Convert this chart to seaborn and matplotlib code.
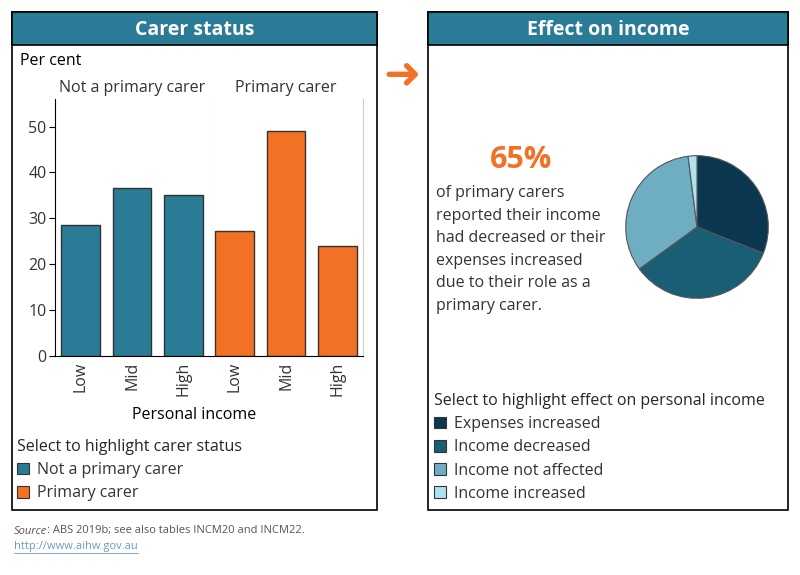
import numpy as np
import pandas as pd
import matplotlib
matplotlib.use("Agg")
import matplotlib.pyplot as plt
import seaborn as sns
from matplotlib.patches import Rectangle, Patch
from matplotlib.lines import Line2D

# ==========================
# Dane
# ==========================
carer_groups = ["Not a primary carer", "Primary carer"]
income_levels = ["Low", "Mid", "High"]
not_carer_values = [28.5, 36.6, 35.1]
primary_carer_values = [27.2, 49.0, 24.0]

effect_labels = ["Expenses increased", "Income decreased", "Income not affected", "Income increased"]
effect_values = [31, 34, 33, 2]

TEAL = "#2a7b96"
ORANGE = "#f37124"
PIE_COLORS = ["#0b3850", "#1a5e76", "#6faec2", "#ade2ef"]
TEXT = "#333333"
FS = 11.5

sns.set_style("white")
plt.rcParams["font.family"] = ["Open Sans", "DejaVu Sans"]

W, H = 800, 575
fig = plt.figure(figsize=(W / 100, H / 100), dpi=100)


def fx(x):
    return x / W


def fy(y):
    return 1 - y / H


# ==========================
# Ramki paneli
# ==========================
def panel(x0, x1, title):
    fig.add_artist(Rectangle((fx(x0), fy(510)), fx(x1 - x0), (510 - 12) / H,
                             transform=fig.transFigure, facecolor="none",
                             edgecolor="black", lw=1.2))
    fig.add_artist(Rectangle((fx(x0), fy(45)), fx(x1 - x0), (45 - 12) / H,
                             transform=fig.transFigure, facecolor=TEAL,
                             edgecolor="black", lw=1.2))
    fig.text(fx((x0 + x1) / 2), fy(30), title, color="white", fontsize=14,
             fontweight="bold", ha="center", va="center")


panel(12, 377, "Carer status")
panel(428, 788, "Effect on income")

# strzałka
fig.text(fx(402), fy(76), "➜", color=ORANGE, fontsize=32, ha="center",
         va="center", family="DejaVu Sans")

# ==========================
# Wykres słupkowy (dwa panele)
# ==========================
fig.text(fx(20), fy(61), "Per cent", fontsize=FS, color="black", va="center")

ax_w = (363 - 55) / 2
axes = [fig.add_axes([fx(55), fy(356), ax_w / W, (356 - 99) / H]),
        fig.add_axes([fx(55 + ax_w), fy(356), ax_w / W, (356 - 99) / H])]

for ax, group, vals, col in zip(axes, carer_groups,
                                 [not_carer_values, primary_carer_values],
                                 [TEAL, ORANGE]):
    df = pd.DataFrame({"income": income_levels, "value": vals})
    sns.barplot(data=df, x="income", y="value", order=income_levels,
                color=col, saturation=1, width=0.75, edgecolor="#333333",
                linewidth=1, ax=ax)
    ax.set_ylim(0, 56)
    ax.set_xlabel("")
    ax.set_ylabel("")
    ax.set_title(group, fontsize=FS, color=TEXT, pad=5)
    ax.tick_params(axis="x", length=0, labelrotation=90, labelsize=FS,
                   labelcolor=TEXT, pad=4)
    ax.spines["top"].set_visible(False)
    ax.spines["right"].set_color("#cccccc")
    ax.spines["bottom"].set_color("black")
    ax.spines["left"].set_visible(False)

axes[0].spines["left"].set_visible(True)
axes[0].spines["left"].set_color("black")
axes[0].set_yticks([0, 10, 20, 30, 40, 50])
axes[0].tick_params(axis="y", left=True, length=4, labelsize=FS,
                    labelcolor=TEXT, color="black", pad=2)
axes[1].set_yticks([])

fig.text(fx(194.5), fy(415), "Personal income", fontsize=FS, color="black",
         ha="center", va="center")

# legenda lewa
left_handles = [Patch(facecolor=c, edgecolor="#333333", lw=0.8) for c in [TEAL, ORANGE]]
leg1 = fig.legend(left_handles, carer_groups, loc="upper left",
                  bbox_to_anchor=(fx(17), fy(439)), frameon=False,
                  title="Select to highlight carer status", title_fontsize=FS,
                  fontsize=FS, alignment="left", handlelength=0.75,
                  handleheight=0.75, handletextpad=0.5, labelspacing=0.45,
                  borderpad=0, borderaxespad=0)
for t in leg1.get_texts():
    t.set_color(TEXT)

# ==========================
# Wykres kołowy
# ==========================
ax_pie = fig.add_axes([fx(625), fy(299), 144 / W, 144 / H])
ax_pie.pie(effect_values, colors=PIE_COLORS, startangle=90, counterclock=False,
           wedgeprops=dict(edgecolor="#555555", linewidth=0.8))
ax_pie.set_xlim(-1.01, 1.01)
ax_pie.set_ylim(-1.01, 1.01)
ax_pie.set_aspect("equal")

fig.text(fx(521), fy(160), "65%", color=ORANGE, fontsize=22,
         fontweight="bold", ha="center", va="center")
fig.text(fx(436), fy(185),
         "of primary carers\nreported their income\nhad decreased or their\n"
         "expenses increased\ndue to their role as a\nprimary carer.",
         fontsize=FS, color=TEXT, ha="left", va="top", linespacing=1.55)

right_handles = [Patch(facecolor=c, edgecolor="#333333", lw=0.8) for c in PIE_COLORS]
leg2 = fig.legend(right_handles, effect_labels, loc="upper left",
                  bbox_to_anchor=(fx(434), fy(393)), frameon=False,
                  title="Select to highlight effect on personal income",
                  title_fontsize=FS, fontsize=FS, alignment="left",
                  handlelength=0.75, handleheight=0.75, handletextpad=0.5,
                  labelspacing=0.45, borderpad=0, borderaxespad=0)
for t in leg2.get_texts():
    t.set_color(TEXT)

# ==========================
# Źródło
# ==========================
renderer = fig.canvas.get_renderer()
src = fig.text(fx(14), fy(531), "Source", fontsize=8, style="italic",
               color="#555555", va="center")
bb = src.get_window_extent(renderer)
fig.text(bb.x1 / W, fy(531), ": ABS 2019b; see also tables INCM20 and INCM22.",
         fontsize=8, color="#555555", va="center")
url = fig.text(fx(14), fy(547), "http://www.aihw.gov.au", fontsize=8,
               color="#6a9cc0", va="center")
ub = url.get_window_extent(renderer)
fig.add_artist(Line2D([ub.x0 / W, ub.x1 / W], [ub.y0 / H, ub.y0 / H],
                      transform=fig.transFigure, color="#6a9cc0", lw=0.6))

fig.savefig("out.png", dpi=100)
